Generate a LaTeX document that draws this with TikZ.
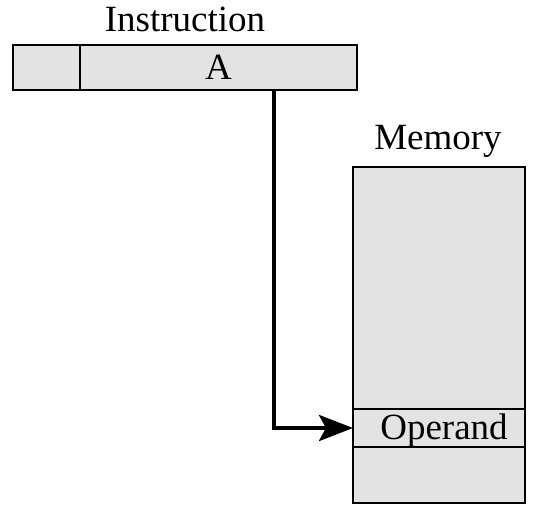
\documentclass[tikz,border=0pt]{standalone}
\usepackage{fontspec}
\setmainfont{Liberation Serif}
\usetikzlibrary{arrows.meta}
\definecolor{boxgray}{HTML}{E3E3E3}
\begin{document}
\begin{tikzpicture}[x=1pt,y=-1pt,
  cell/.style={draw=black,line width=2.5pt,fill=boxgray},
  lbl/.style={font=\fontsize{37}{40}\selectfont,inner sep=0pt,anchor=base},
  link/.style={line width=4.5pt,-{Stealth[length=34pt,width=26pt,inset=7pt]}}]
\useasboundingbox (0,0) rectangle (533,515);
% instruction
\draw[cell] (13,45) rectangle (80,90);
\draw[cell] (80,45) rectangle (357,90);
\node[lbl] (ins) at (185,31) {Instruction};
\node[lbl] (A) at (218.5,79) {A};
\coordinate (start) at (274,90);
% memory
\draw[cell] (353,167) rectangle (525,503);
\draw[cell] (353,409) rectangle (525,447);
\node[lbl] (mem) at (438,149) {Memory};
\node[lbl] (op) at (444,439) {Operand};
\coordinate (opl) at (353,428);
\draw[link] (start) |- (opl);
\end{tikzpicture}
\end{document}
